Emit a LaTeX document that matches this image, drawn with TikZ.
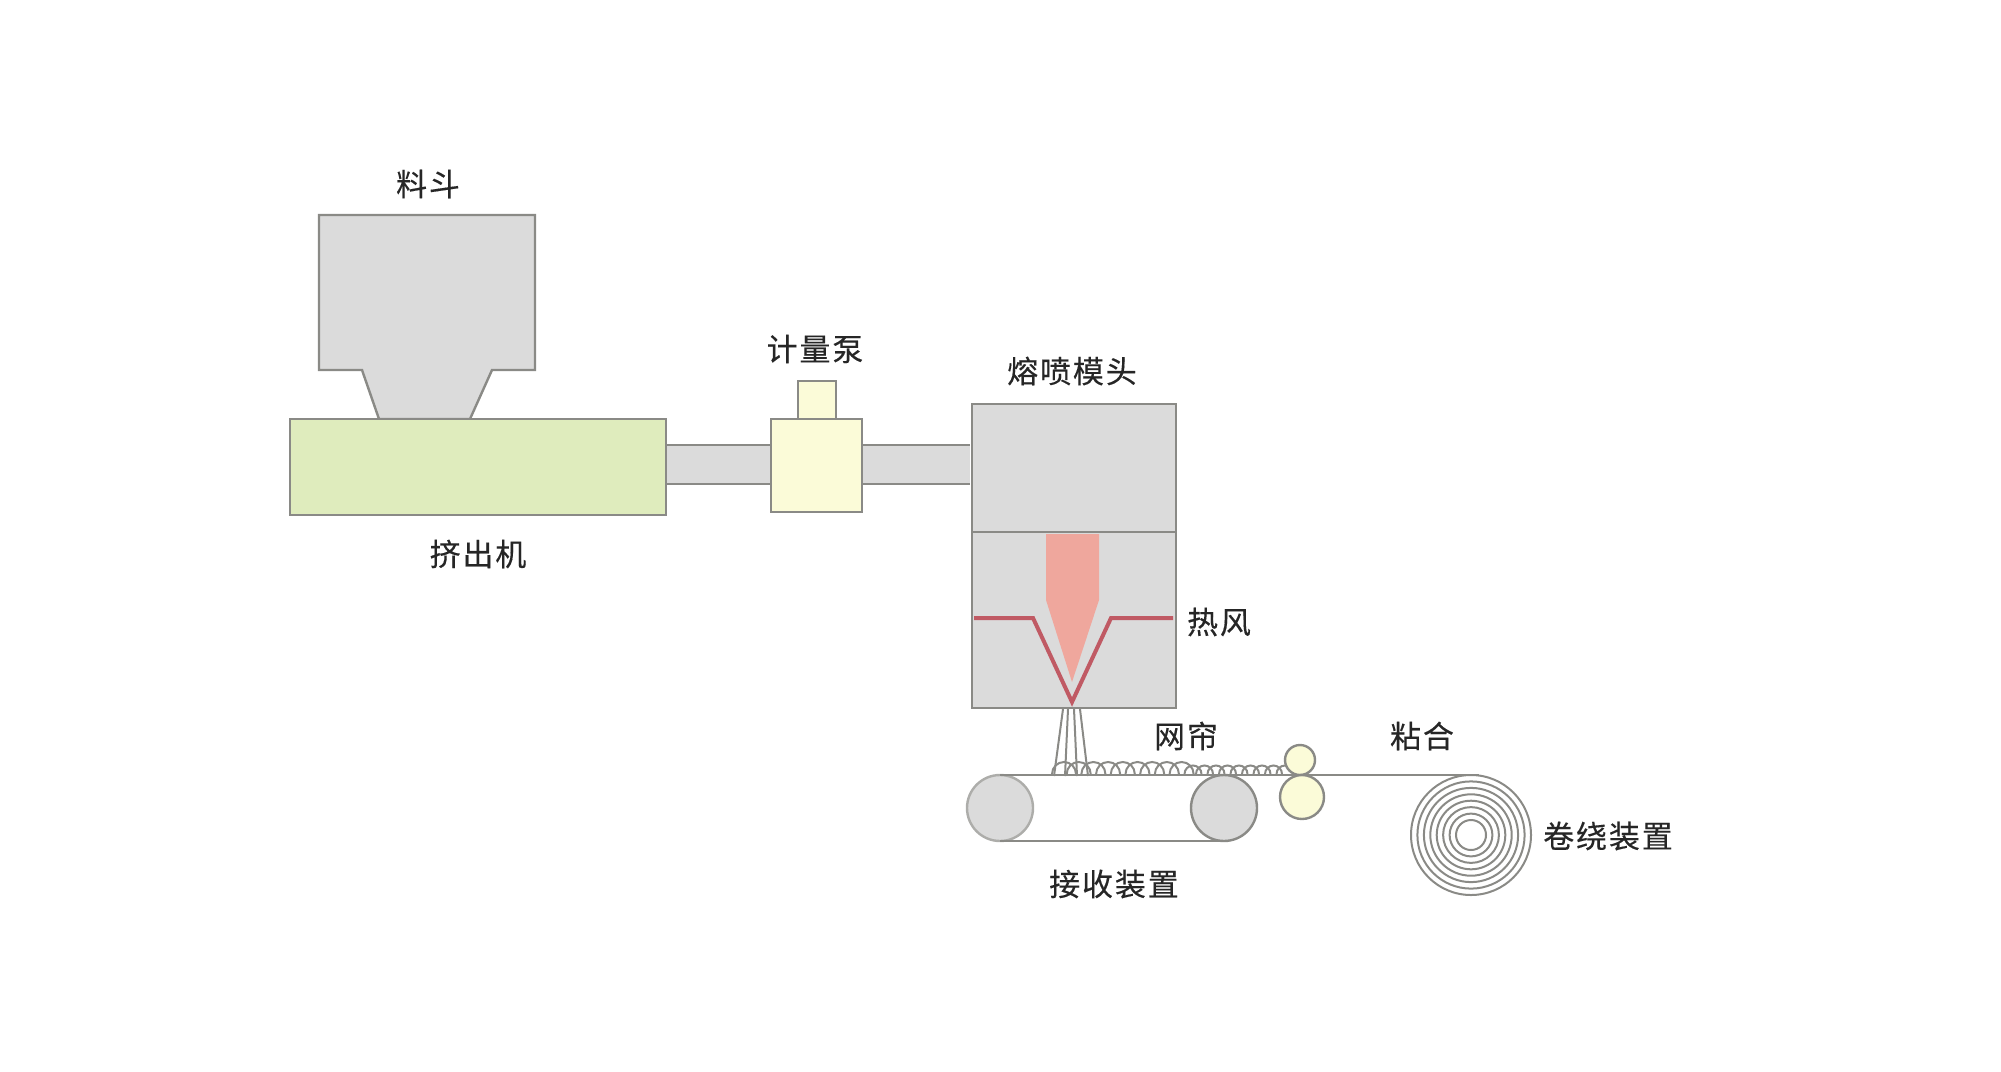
\documentclass[tikz,border=0pt]{standalone}
\usepackage{fontspec}
\newfontfamily\cjk[LetterSpace=6,FakeBold=0.3]{Noto Sans CJK SC}
\definecolor{edgegray}{HTML}{8A8A86}
\definecolor{bodygray}{HTML}{DBDBDB}
\definecolor{extrgreen}{HTML}{DFECBD}
\definecolor{pumpyellow}{HTML}{FBFBD8}
\definecolor{meltred}{HTML}{EFA79D}
\definecolor{airred}{HTML}{C05A64}
\tikzset{
	part/.style={draw=edgegray, line width=2.4pt, line join=miter},
	fibre/.style={draw=edgegray, line width=2pt},
	lab/.style={text=black!85, font=\fontsize{31}{37}\selectfont\cjk, inner sep=0pt},
}
\begin{document}
\begin{tikzpicture}[x=1pt, y=-1pt]
		\useasboundingbox (0,0) rectangle (2001,1071);
		% pipes
		\fill[bodygray] (665,445) rectangle (970,484);
		\draw[part] (665,445) -- (970,445);
		\draw[part] (665,484) -- (970,484);
		% hopper and extruder
		\draw[part, fill=bodygray] (319,215) -- (535,215) -- (535,370) -- (492,370) -- (470,419)
			-- (379,419) -- (362,370) -- (319,370) -- cycle;
		\draw[part, fill=extrgreen] (290,419) rectangle (666,515);
		% pump
		\draw[part, fill=pumpyellow] (798,381) rectangle (836,419);
		\draw[part, fill=pumpyellow] (771,419) rectangle (862,512);
		% die
		\draw[part, fill=bodygray] (972,404) rectangle (1176,708);
		\draw[part] (972,532) -- (1176,532);
		\fill[meltred] (1046,534) -- (1099,534) -- (1099,600) -- (1072,682) -- (1046,600) -- cycle;
		\draw[airred, line width=4pt] (974,618) -- (1033,618) -- (1072,702) -- (1111,618) -- (1173,618);
%		fibres leaving the die
		\foreach \xa/\xb in {1063/1054, 1068/1065, 1074/1077, 1080/1088}
			\draw[fibre] (\xa,709) -- (\xb,776);
		\foreach \xc in {0,...,8}
			\draw[fibre] ({1064+14.7*\xc+12},774) arc (0:-180:12);
		\foreach \xc in {0,...,8}
			\draw[fibre] ({1193+11.5*\xc+8.5},774) arc (0:-180:8.5);
		% conveyor
		\draw[part, fill=bodygray, draw=edgegray!70] (1000,808) circle (33);
		\draw[part, fill=bodygray] (1224,808) circle (33);
		\draw[part] (1000,841) -- (1224,841);
		% nip rollers
		\draw[part, fill=pumpyellow] (1300,760) circle (15);
		\draw[part, fill=pumpyellow] (1302,797) circle (22);
		\draw[part] (1000,775) -- (1479,775);
		% winder
		\foreach \ra in {15,21.4,27.9,34.3,40.7,47.1,53.6,60}
			\draw[fibre] (1471,835) circle (\ra);
		% labels
		\node[lab] (hopperlab) at (428,184) {料斗};
		\node[lab] (extruderlab) at (478,554) {挤出机};
		\node[lab] (pumplab) at (815,349) {计量泵};
		\node[lab] (dielab) at (1072,371) {熔喷模头};
		\node[lab] (airlab) at (1219,622) {热风};
		\node[lab] (weblab) at (1186,736) {网帘};
		\node[lab] (bondlab) at (1422,736) {粘合};
		\node[lab] (winderlab) at (1608,836) {卷绕装置};
		\node[lab] (beltlab) at (1114,884) {接收装置};
	\end{tikzpicture}
\end{document}
